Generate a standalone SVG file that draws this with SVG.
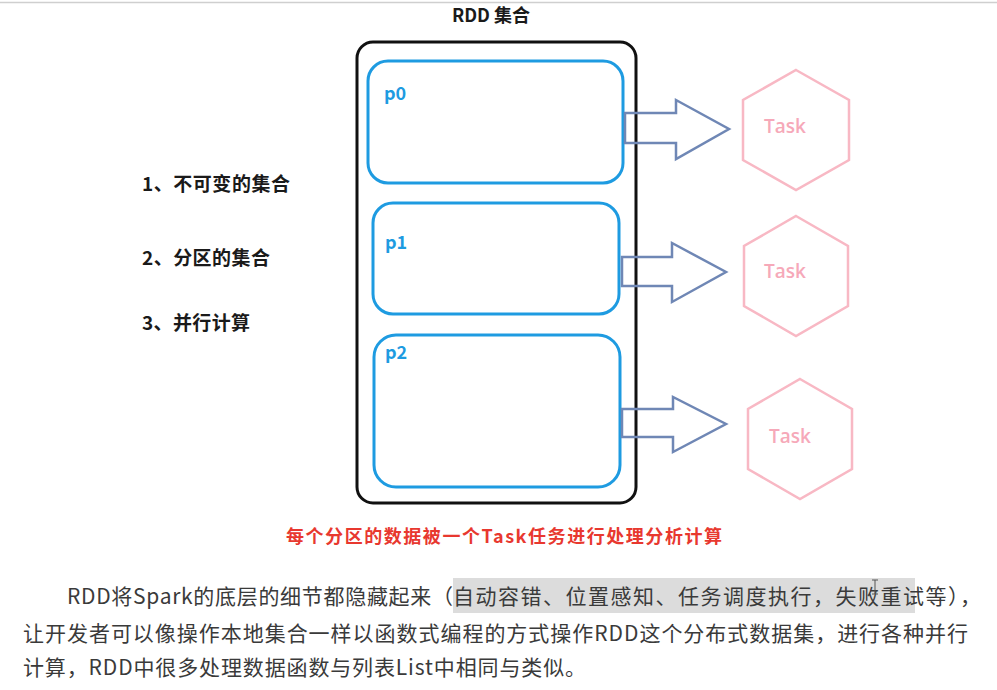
<svg xmlns="http://www.w3.org/2000/svg" width="997" height="690" viewBox="0 0 997 690">
<style>
.cjk{font-family:"Noto Sans CJK SC","Microsoft YaHei",sans-serif}
.bold{font-weight:bold}
.part{fill:none;stroke:#1E9BE1;stroke-width:3}
.plabel{font-family:"Noto Sans CJK SC",sans-serif;font-weight:bold;font-size:18px;fill:#1E9BE1}
.hex{fill:none;stroke:#F8B8C4;stroke-width:2.5}
.task{font-family:"Open Sans","Noto Sans CJK SC",sans-serif;font-weight:600;font-size:19px;fill:#F6A9B9;text-anchor:middle}
.arrow{fill:none;stroke:#6F87B5;stroke-width:2.5;stroke-linejoin:miter}
.item{font-size:19px;fill:#1a1a1a}
.para{font-size:21px;fill:#3a3a3a}
</style>
<rect x="0" y="0" width="997" height="690" fill="#ffffff"/>
<line x1="0" y1="2.5" x2="997" y2="2.5" stroke="#cfcfcf" stroke-width="1.5"/>

<g id="title">
<text class="cjk bold" x="491" y="22" font-size="18" fill="#1a1a1a" text-anchor="middle">RDD 集合</text>
</g>

<g id="rdd">
<rect x="357" y="42" width="279" height="461" rx="16" fill="none" stroke="#111111" stroke-width="3"/>
</g>
<g id="p0">
<rect class="part" x="368" y="61" width="255" height="122" rx="20"/>
<text class="plabel" x="384" y="100">p0</text>
</g>
<g id="p1">
<rect class="part" x="373" y="203" width="246" height="111" rx="20"/>
<text class="plabel" x="385" y="249">p1</text>
</g>
<g id="p2">
<rect class="part" x="374" y="335" width="246" height="152" rx="22"/>
<text class="plabel" x="385" y="359">p2</text>
</g>

<g id="connectors">
<polygon class="arrow" points="625,113 676,113 676,100 729,129 676,159 676,143 625,143"/>
<polygon class="arrow" points="622,257 672,257 672,243 726,272 672,302 672,286 622,286"/>
<polygon class="arrow" points="622,409 673,409 673,397 726,424 673,452 673,437 622,437"/>
</g>

<g id="task0">
<polygon class="hex" points="796,70 849,100 849,160 796,190 743,160 743,100"/>
<text class="task" x="785" y="133">Task</text>
</g>
<g id="task1">
<polygon class="hex" points="796,216 848,246 848,306 796,336 744,306 744,246"/>
<text class="task" x="785" y="278">Task</text>
</g>
<g id="task2">
<polygon class="hex" points="800,379 852,409 852,469 800,499 748,469 748,409"/>
<text class="task" x="790" y="443">Task</text>
</g>

<g id="features">
<text class="cjk bold item" x="142" y="191" textLength="148">1、不可变的集合</text>
<text class="cjk bold item" x="142" y="265" textLength="128">2、分区的集合</text>
<text class="cjk bold item" x="142" y="330" textLength="108">3、并行计算</text>
</g>

<g id="caption">
<text class="cjk bold" x="286" y="543" font-size="18" fill="#E8382F" textLength="436">每个分区的数据被一个Task任务进行处理分析计算</text>
</g>

<g id="paragraph">
<rect x="453" y="578" width="462" height="35" fill="#DCDCDC"/>
<text class="cjk para" x="67" y="604" textLength="386">RDD将Spark的底层的细节都隐藏起来（</text>
<text class="cjk para" x="453" y="604" textLength="528">自动容错、位置感知、任务调度执行，失败重试等），</text>
<text class="cjk para" x="23" y="641" textLength="945">让开发者可以像操作本地集合一样以函数式编程的方式操作RDD这个分布式数据集，进行各种并行</text>
<text class="cjk para" x="23" y="675" textLength="563">计算，RDD中很多处理数据函数与列表List中相同与类似。</text>
<path d="M872,580 H878 M875,580 V594 M872,594 H878" stroke="#555" stroke-width="1" fill="none"/>
</g>
</svg>
